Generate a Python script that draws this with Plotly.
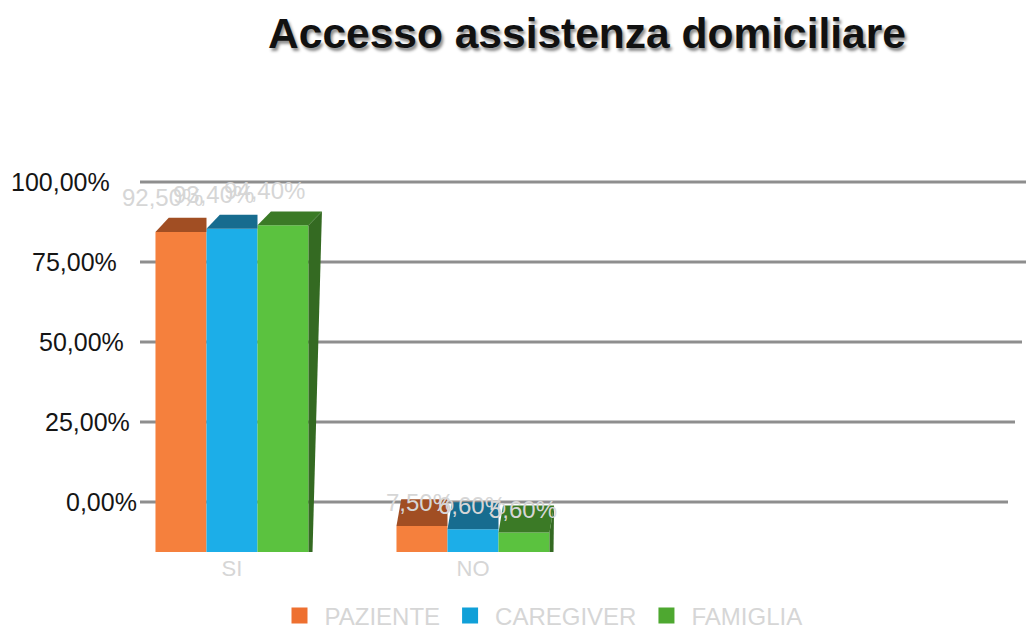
import plotly.graph_objects as go

# ---- data ----
categories = ["SI", "NO"]
series_names = ["PAZIENTE", "CAREGIVER", "FAMIGLIA"]
paziente = [92.5, 7.5]
caregiver = [93.4, 6.6]
famiglia = [94.4, 5.6]
tick_values = [0, 25, 50, 75, 100]
tick_labels = ["0,00%", "25,00%", "50,00%", "75,00%", "100,00%"]

series_values = [paziente, caregiver, famiglia]

# ---- styling ----
W, H = 1026, 630
M_L, M_R, M_T, M_B = 140, 0, 170, 78
front_colors = ["#F5803D", "#1CAEE8", "#5BC23F"]
top_colors = ["#A14E23", "#176C8F", "#3B7A26"]
side_color = "#346A22"
legend_colors = ["#EE7030", "#10A0D8", "#4EA830"]
label_grey = "#D6D6D6"
FONT = "Liberation Sans, Arial, Helvetica, sans-serif"

X_RANGE = [-0.3817, 3.2946]
Y_RANGE = [0, 110.4]          # bar axis
Y2_RANGE = [-15.625, 103.75]  # back-wall grid axis
BARGAP = 0.365

plot_w = W - M_L - M_R
plot_h = H - M_T - M_B
px_x = plot_w / (X_RANGE[1] - X_RANGE[0])
px_y = plot_h / (Y_RANGE[1] - Y_RANGE[0])
bar_w = (1 - BARGAP) / len(series_values)
n = len(series_values)
xs = list(range(len(categories)))

fig = go.Figure()

for i, (name, vals) in enumerate(zip(series_names, series_values)):
    fig.add_trace(go.Bar(
        x=xs, y=vals, name=name, showlegend=False,
        marker=dict(color=front_colors[i], line=dict(width=0)),
        hovertemplate="%{y:.2f}%<extra>" + name + "</extra>",
    ))
    # legend swatch
    fig.add_trace(go.Scatter(
        x=[None], y=[None], mode="markers", name=name,
        marker=dict(symbol="square", size=19, color=legend_colors[i]),
    ))


def depth_px(v):
    return 28 - 0.15 * v


def skew_px(v):
    return 4 + 0.1 * v


shapes = []
annotations = []

# receding grid lines on the back wall
grid_right_px = {100: 1026, 75: 1026, 50: 1022, 25: 1015, 0: 1008}
for tv, tl in zip(tick_values, tick_labels):
    shapes.append(dict(
        type="line", xref="paper", yref="y2", layer="below",
        x0=0, x1=(grid_right_px[tv] - M_L) / plot_w, y0=tv, y1=tv,
        line=dict(color="#8E8E8E", width=3),
    ))
    annotations.append(dict(
        xref="paper", yref="y2", x=0, y=tv, xanchor="right", yanchor="middle",
        xshift=(139 - 0.27 * tv) - M_L, showarrow=False, text=tl,
        font=dict(family=FONT, size=25, color="#151515"),
    ))

# top faces, side face and value labels for each bar
for i, vals in enumerate(series_values):
    for j, v in enumerate(vals):
        c = xs[j] + (i - (n - 1) / 2) * bar_w
        x0, x1 = c - bar_w / 2, c + bar_w / 2
        d = depth_px(v) / px_y
        s = skew_px(v) / px_x
        if i == n - 1:
            top = f"M{x0},{v} L{x1},{v} L{x1 + s},{v + d} L{x0 + s},{v + d} Z"
            s0 = skew_px(0) / px_x
            side = f"M{x1},0 L{x1},{v} L{x1 + s},{v + d} L{x1 + s0},0 Z"
            shapes.append(dict(type="path", xref="x", yref="y", path=side,
                               fillcolor=side_color, line=dict(width=0), layer="above"))
        else:
            top = f"M{x0},{v} L{x1},{v} L{x1},{v + d} L{x0 + s},{v + d} Z"
        shapes.append(dict(type="path", xref="x", yref="y", path=top,
                           fillcolor=top_colors[i], line=dict(width=0), layer="above"))
        annotations.append(dict(
            xref="x", yref="y", x=c, y=v, xanchor="center", yanchor="bottom",
            xshift=-0.2 * v, yshift=7 + 0.13 * v, showarrow=False,
            text=f"{v:.2f}%".replace(".", ","),
            font=dict(family=FONT, size=24, color=label_grey),
        ))

fig.update_layout(
    width=W, height=H,
    margin=dict(l=M_L, r=M_R, t=M_T, b=M_B, autoexpand=False),
    paper_bgcolor="white", plot_bgcolor="white",
    barmode="group", bargap=BARGAP, bargroupgap=0,
    title=dict(
        text="<b>Accesso assistenza domiciliare</b>",
        x=587 / W, xanchor="center", xref="container",
        y=1 - 33 / H, yanchor="middle", yref="container",
        font=dict(family=FONT, size=42.5, color="#111111",
                  shadow="2px 3px 3px rgba(0,0,0,0.45)"),
    ),
    xaxis=dict(
        range=X_RANGE, tickvals=xs, ticktext=categories,
        showgrid=False, zeroline=False, showline=False, ticks="",
        ticklabelstandoff=1,
        tickfont=dict(family=FONT, size=22, color=label_grey),
    ),
    yaxis=dict(range=Y_RANGE, visible=False, showgrid=False, zeroline=False),
    yaxis2=dict(range=Y2_RANGE, overlaying="y", visible=False,
                showgrid=False, zeroline=False),
    legend=dict(
        orientation="h", xref="container", x=541 / W, xanchor="center",
        yref="container", y=1 - 616 / H, yanchor="middle",
        itemwidth=40,
        font=dict(family=FONT, size=24, color=label_grey),
        bgcolor="rgba(0,0,0,0)",
    ),
    shapes=shapes,
    annotations=annotations,
    showlegend=True,
)

# attach the grid axis so the y2 references resolve
fig.add_trace(go.Scatter(x=[None], y=[None], yaxis="y2", showlegend=False, hoverinfo="skip"))

fig.write_html("out.html")
